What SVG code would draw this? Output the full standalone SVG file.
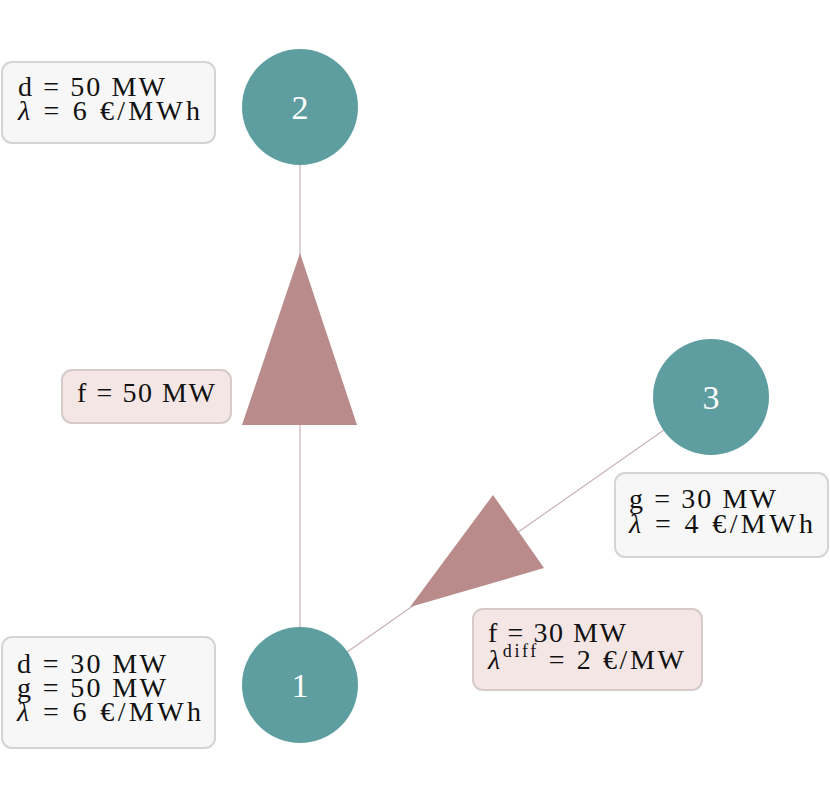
<svg xmlns="http://www.w3.org/2000/svg" width="830" height="794" viewBox="0 0 830 794">
<style>
text{font-family:"Liberation Serif","DejaVu Serif",serif;font-size:28px;fill:#111}
.node{fill:#5f9ea0}
.nl{fill:#fff;font-size:34px;text-anchor:middle}
.box{fill:#f7f7f7;stroke:#d4d4d4;stroke-width:2}
.fbox{fill:#f5e6e6;stroke:#d6caca;stroke-width:2}
.line{stroke:#c7b2b6;stroke-width:1.2;fill:none}
.arrow{fill:#b98b8b}
.l{font-style:italic}
</style>
<rect width="830" height="794" fill="#fff"/>
<g id="connectors">
<line class="line" x1="300" y1="107" x2="300" y2="685"/>
<line class="line" x1="711" y1="397" x2="300" y2="685"/>
<polygon class="arrow" points="300,253 357,425 242,425"/>
<polygon class="arrow" points="410,607 493,495 544,568"/>
</g>
<g id="flow12">
<rect class="fbox" x="62" y="370" width="169" height="53" rx="10"/>
<text x="77" y="402" textLength="138">f = 50 MW</text>
</g>
<g id="flow13">
<rect class="fbox" x="473" y="609" width="229" height="81" rx="10"/>
<text x="488" y="642" textLength="138">f = 30 MW</text>
<text x="488" y="669" textLength="196"><tspan class="l">λ</tspan><tspan font-size="18" dy="-12">diff</tspan><tspan dy="12"> = 2 €/MW</tspan></text>
</g>
<g id="node2">
<circle class="node" cx="300" cy="107" r="58"/>
<text class="nl" x="300" y="119">2</text>
<rect class="box" x="2" y="62" width="213" height="81" rx="10"/>
<text x="18" y="96" textLength="147">d = 50 MW</text>
<text x="18" y="120" textLength="182"><tspan class="l">λ</tspan> = 6 €/MWh</text>
</g>
<g id="node3">
<circle class="node" cx="711" cy="397" r="58"/>
<text class="nl" x="711" y="409">3</text>
<rect class="box" x="615" y="473" width="213" height="84" rx="10"/>
<text x="629" y="508" textLength="147">g = 30 MW</text>
<text x="629" y="533" textLength="184"><tspan class="l">λ</tspan> = 4 €/MWh</text>
</g>
<g id="node1">
<circle class="node" cx="300" cy="685" r="58"/>
<text class="nl" x="300" y="697">1</text>
<rect class="box" x="2" y="637" width="213" height="111" rx="10"/>
<text x="17" y="673" textLength="149">d = 30 MW</text>
<text x="17" y="697" textLength="149">g = 50 MW</text>
<text x="17" y="721" textLength="184"><tspan class="l">λ</tspan> = 6 €/MWh</text>
</g>
</svg>
